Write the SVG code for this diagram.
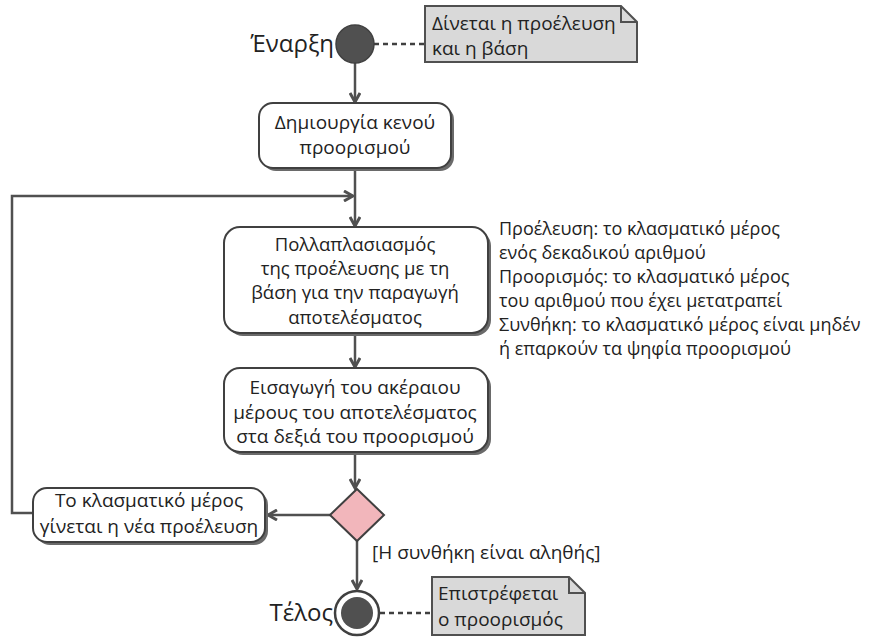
<svg xmlns="http://www.w3.org/2000/svg" width="876" height="638" viewBox="0 0 876 638">
<defs>
<marker id="arr" viewBox="0 0 12 12" refX="10" refY="6" markerWidth="12" markerHeight="12" markerUnits="userSpaceOnUse" orient="auto">
<path d="M1,1 L10,6 L1,11" fill="none" stroke="#505050" stroke-width="3" stroke-linejoin="miter"/>
</marker>
</defs>
<style>
text{font-family:"Open Sans","Noto Sans","DejaVu Sans",sans-serif;fill:#222}
.t{font-size:19px;text-anchor:middle}
.t2{font-size:18.5px;text-anchor:middle}
.big{font-size:24px;text-anchor:end}
.nt{font-size:19px}
.ann{font-size:18px}
.box{fill:#fff;stroke:#404040;stroke-width:2}
.sh{fill:#6a6a6a}
.edge{fill:none;stroke:#505050;stroke-width:2.5}
.dash{fill:none;stroke:#404040;stroke-width:2.5;stroke-dasharray:5 4}
.note{fill:#d9d9d9;stroke:#505050;stroke-width:2}
.fold{fill:none;stroke:#505050;stroke-width:2}
</style>
<rect width="876" height="638" fill="#fff"/>
<g id="connectors">
<line class="edge" x1="355" y1="63" x2="355" y2="102" marker-end="url(#arr)"/>
<line class="edge" x1="355" y1="168" x2="355" y2="226" marker-end="url(#arr)"/>
<polyline class="edge" points="33,513 12,513 12,196 353,196" marker-end="url(#arr)"/>
<line class="edge" x1="355" y1="333" x2="355" y2="367" marker-end="url(#arr)"/>
<line class="edge" x1="355" y1="452" x2="355" y2="488" marker-end="url(#arr)"/>
<line class="edge" x1="330" y1="515" x2="268" y2="515" marker-end="url(#arr)"/>
<line class="edge" x1="357" y1="541" x2="357" y2="589" marker-end="url(#arr)"/>
<line class="dash" x1="374" y1="44" x2="425" y2="44"/>
<line class="dash" x1="380" y1="613" x2="432" y2="613"/>
<text class="nt" x="372" y="559">[Η συνθήκη είναι αληθής]</text>
</g>
<g id="start">
<text class="big" x="334" y="52">Έναρξη</text>
<circle cx="355" cy="44" r="19" fill="#505050" stroke="#404040" stroke-width="1.5"/>
</g>
<g id="note1">
<path class="note" d="M425,6 H621 L637,22 V62 H425 Z"/>
<path class="fold" d="M621,6 V22 H637"/>
<text class="nt" x="432" y="30">Δίνεται η προέλευση</text>
<text class="nt" x="432" y="55">και η βάση</text>
</g>
<g id="node1">
<rect class="sh" x="262" y="106" width="192" height="65" rx="14"/>
<rect class="box" x="259" y="103" width="192" height="65" rx="14"/>
<text class="t" x="355" y="129">Δημιουργία κενού</text>
<text class="t" x="355" y="154">προορισμού</text>
</g>
<g id="node2">
<rect class="sh" x="227" y="230" width="264" height="106" rx="16"/>
<rect class="box" x="224" y="227" width="264" height="106" rx="16"/>
<text class="t2" x="355" y="251">Πολλαπλασιασμός</text>
<text class="t2" x="355" y="275">της προέλευσης με τη</text>
<text class="t2" x="355" y="299">βάση για την παραγωγή</text>
<text class="t2" x="355" y="324">αποτελέσματος</text>
</g>
<g id="node3">
<rect class="sh" x="227" y="371" width="264" height="84" rx="16"/>
<rect class="box" x="224" y="368" width="264" height="84" rx="16"/>
<text class="t" x="355" y="394">Εισαγωγή του ακέραιου</text>
<text class="t" x="355" y="419">μέρους του αποτελέσματος</text>
<text class="t" x="355" y="443">στα δεξιά του προορισμού</text>
</g>
<g id="decision">
<polygon points="357,489 384,515 357,541 330,515" fill="#f2b6bb" stroke="#404040" stroke-width="2"/>
</g>
<g id="node4">
<rect class="sh" x="36" y="491" width="232" height="54" rx="14"/>
<rect class="box" x="33" y="488" width="232" height="54" rx="14"/>
<text class="t" x="149" y="507">Το κλασματικό μέρος</text>
<text class="t" x="149" y="533">γίνεται η νέα προέλευση</text>
</g>
<g id="end">
<text class="big" x="333" y="621">Τέλος</text>
<circle cx="357" cy="613" r="22" fill="#fff" stroke="#404040" stroke-width="2.5"/>
<circle cx="357" cy="613" r="16" fill="#505050"/>
</g>
<g id="note2">
<path class="note" d="M432,577 H569 L585,593 V635 H432 Z"/>
<path class="fold" d="M569,577 V593 H585"/>
<text class="nt" x="438" y="600">Επιστρέφεται</text>
<text class="nt" x="438" y="626">ο προορισμός</text>
</g>
<g id="annotation">
<text class="ann" x="499" y="235">Προέλευση: το κλασματικό μέρος</text>
<text class="ann" x="499" y="259">ενός δεκαδικού αριθμού</text>
<text class="ann" x="499" y="283">Προορισμός: το κλασματικό μέρος</text>
<text class="ann" x="499" y="307">του αριθμού που έχει μετατραπεί</text>
<text class="ann" x="499" y="331">Συνθήκη: το κλασματικό μέρος είναι μηδέν</text>
<text class="ann" x="499" y="355">ή επαρκούν τα ψηφία προορισμού</text>
</g>
</svg>
